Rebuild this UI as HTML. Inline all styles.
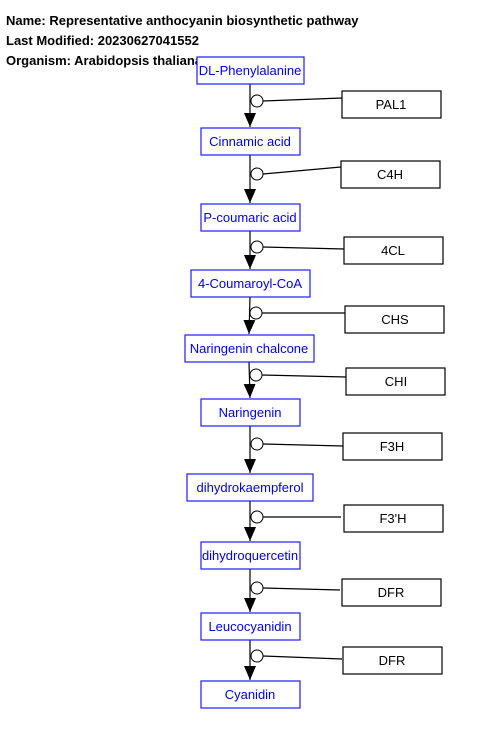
<!DOCTYPE html>
<html><head><meta charset="utf-8"><style>
body{margin:0;background:#fff;}
svg text{font-family:"Liberation Sans",sans-serif;}
</style></head><body>
<svg width="480" height="742" xmlns="http://www.w3.org/2000/svg">
<defs><marker id="a" markerWidth="14" markerHeight="12" refX="14" refY="6" orient="auto" markerUnits="userSpaceOnUse"><path d="M0,0 L14,6 L0,12 z" fill="#000"/></marker></defs>
<g font-size="13" font-weight="bold" fill="#000">
<text x="6" y="25">Name: Representative anthocyanin biosynthetic pathway</text>
<text x="6" y="45">Last Modified: 20230627041552</text>
<text x="6" y="65">Organism: Arabidopsis thaliana</text>
</g>
<g stroke="#000" stroke-width="1.2" fill="none">
<line x1="250" y1="84" x2="250" y2="127" marker-end="url(#a)"/>
<line x1="250" y1="155" x2="250" y2="203" marker-end="url(#a)"/>
<line x1="250" y1="231" x2="250" y2="269" marker-end="url(#a)"/>
<line x1="250" y1="297" x2="249" y2="334" marker-end="url(#a)"/>
<line x1="249" y1="362" x2="250" y2="398" marker-end="url(#a)"/>
<line x1="250" y1="426" x2="250" y2="473" marker-end="url(#a)"/>
<line x1="250" y1="501" x2="250" y2="541" marker-end="url(#a)"/>
<line x1="250" y1="569" x2="250" y2="612" marker-end="url(#a)"/>
<line x1="250" y1="640" x2="250" y2="680" marker-end="url(#a)"/>
<line x1="263" y1="101" x2="342" y2="98"/>
<line x1="263" y1="174" x2="341" y2="167"/>
<line x1="263" y1="247" x2="344" y2="249"/>
<line x1="262" y1="313" x2="345" y2="313"/>
<line x1="262" y1="375" x2="346" y2="377"/>
<line x1="263" y1="444" x2="343" y2="446"/>
<line x1="263" y1="517" x2="341" y2="517"/>
<line x1="263" y1="588" x2="340" y2="590"/>
<line x1="263" y1="656" x2="342" y2="659"/>
</g>
<g stroke="#000" stroke-width="1" fill="#fff">
<circle cx="257" cy="101" r="6"/><circle cx="257" cy="174" r="6"/><circle cx="257" cy="247" r="6"/>
<circle cx="256" cy="313" r="6"/><circle cx="256" cy="375" r="6"/><circle cx="257" cy="444" r="6"/>
<circle cx="257" cy="517" r="6"/><circle cx="257" cy="588" r="6"/><circle cx="257" cy="656" r="6"/>
</g>
<g stroke="#1c1cff" stroke-width="1.2" fill="#fff">
<rect x="197" y="57" width="107" height="27"/><rect x="201" y="128" width="99" height="27"/>
<rect x="201" y="204" width="99" height="27"/><rect x="191" y="270" width="119" height="27"/>
<rect x="185" y="335" width="129" height="27"/><rect x="201" y="399" width="99" height="27"/>
<rect x="187" y="474" width="126" height="27"/><rect x="201" y="542" width="99" height="27"/>
<rect x="201" y="613" width="99" height="27"/><rect x="201" y="681" width="99" height="27"/>
</g>
<g fill="#0000ee" font-size="13" text-anchor="middle">
<text x="250" y="75">DL-Phenylalanine</text><text x="250" y="146">Cinnamic acid</text>
<text x="250" y="222">P-coumaric acid</text><text x="250" y="288">4-Coumaroyl-CoA</text>
<text x="249" y="353">Naringenin chalcone</text><text x="250" y="417">Naringenin</text>
<text x="250" y="492">dihydrokaempferol</text><text x="250" y="560">dihydroquercetin</text>
<text x="250" y="631">Leucocyanidin</text><text x="250" y="699">Cyanidin</text>
</g>
<g stroke="#000" stroke-width="1.2" fill="#fff">
<rect x="342" y="91" width="99" height="27"/><rect x="341" y="161" width="99" height="27"/>
<rect x="344" y="237" width="99" height="27"/><rect x="345" y="306" width="99" height="27"/>
<rect x="346" y="368" width="99" height="27"/><rect x="343" y="433" width="99" height="27"/>
<rect x="344" y="505" width="99" height="27"/><rect x="342" y="579" width="99" height="27"/>
<rect x="343" y="647" width="99" height="27"/>
</g>
<g fill="#000" font-size="13" text-anchor="middle">
<text x="391" y="109">PAL1</text><text x="390" y="179">C4H</text><text x="393" y="255">4CL</text>
<text x="395" y="324">CHS</text><text x="396" y="386">CHI</text><text x="392" y="451">F3H</text>
<text x="393" y="523">F3'H</text><text x="391" y="597">DFR</text><text x="392" y="665">DFR</text>
</g>
</svg>
</body></html>
